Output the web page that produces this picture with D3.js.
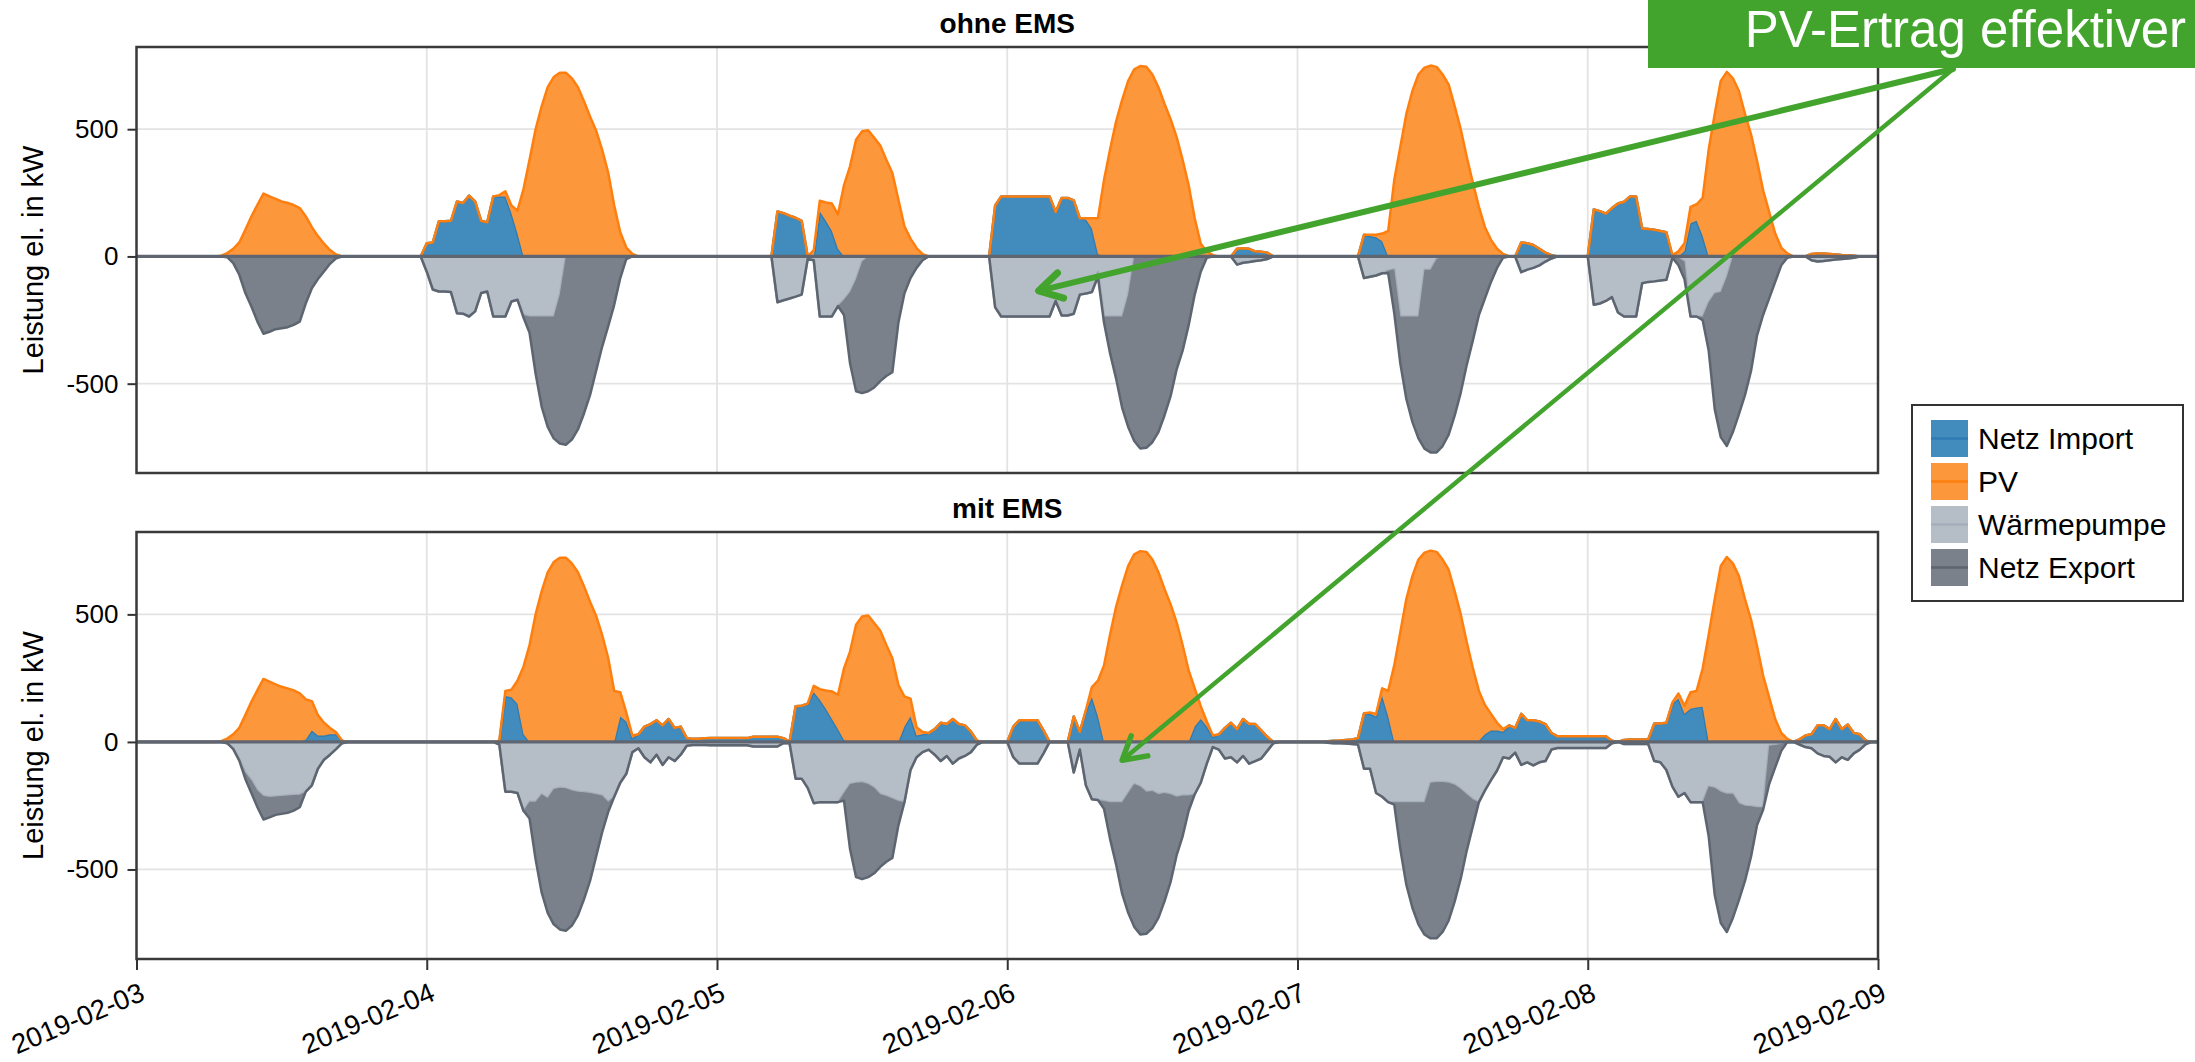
<!DOCTYPE html>
<html>
<head>
<meta charset="utf-8">
<script src="https://cdn.jsdelivr.net/npm/d3@7"></script>
<style>
  body { margin: 0; background: #fff; }
  svg { display: block; }
  text { font-family: "Liberation Sans", Arial, Helvetica, sans-serif; }
</style>
</head>
<body>
<div id="chart"></div>
<script>
// Half-hourly readings, given as runs: [start hour after 2019-02-03 00:00, values...]
// Hours not covered by a run are zero (night / no flow).
const pvRuns = [
  [7.0, [3, 13, 30, 55, 105, 157, 203, 247, 236, 226, 216, 210, 202, 190, 157, 115, 80, 50, 25, 8]],
  [30.0, [5, 20, 30, 90, 265, 380, 500, 590, 665, 705, 722, 722, 700, 665, 610, 550, 495, 420, 330, 200, 95, 35, 10]],
  [56.0, [25, 42, 72, 108, 135, 280, 354, 459, 492, 496, 466, 436, 380, 328, 223, 118, 70, 33, 9]],
  [78.5, [5, 40, 140, 300, 420, 530, 615, 690, 735, 748, 745, 715, 665, 600, 540, 470, 380, 280, 150, 50, 20, 5]],
  [102.0, [5, 10, 30, 100, 300, 430, 560, 650, 715, 742, 750, 745, 715, 675, 590, 500, 390, 290, 195, 115, 65, 30, 10]],
  [127.0, [5, 20, 32, 65, 65, 150, 420, 560, 690, 725, 700, 650, 560, 480, 375, 260, 175, 90, 35, 12]]
];

// ohne EMS
const importOhne = [
  [24.0, [52, 55, 138, 138, 140, 216, 210, 239, 216, 140, 134, 236, 236, 236, 170, 90]],
  [53.0, [177, 170, 160, 152, 140, 0, 0, 177, 140, 100, 30]],
  [71.0, [200, 236, 236, 236, 236, 236, 236, 236, 236, 236, 175, 230, 230, 220, 150, 145, 110, 10]],
  [91.0, [30, 32, 30, 20, 18, 15]],
  [101.5, [85, 80, 75, 60]],
  [114.5, [55, 52, 45, 30, 15, 5]],
  [120.5, [185, 178, 168, 190, 208, 215, 236, 236, 110, 108, 105, 100, 95]],
  [128.0, [20, 130, 140, 80]],
  [138.5, [10, 12, 12, 10, 8, 6, 5, 3]]
];
const wpOhne = [
  [24.0, [-60, -130, -138, -138, -140, -223, -225, -236, -216, -144, -138, -236, -236, -236, -177, -170,
          -230, -236, -236, -236, -236, -236, -150]],
  [53.0, [-180, -172, -165, -158, -150, -10, -15, -236, -236, -236, -195, -170, -140, -90, -20]],
  [71.0, [-200, -236, -236, -236, -236, -236, -236, -236, -236, -236, -175, -232, -232, -225, -150, -146,
          -140, -60, -236, -236, -236, -236, -150]],
  [91.0, [-32, -25, -22, -18, -15, -10]],
  [101.5, [-85, -80, -75, -66, -55, -50, -236, -236, -236, -236, -52, -52, -10]],
  [114.5, [-62, -52, -45, -35, -20, -8]],
  [120.5, [-190, -185, -175, -160, -220, -236, -236, -236, -105, -100, -98, -95, -92, -5, -5, -20,
           -236, -236, -236, -180, -145, -140, -80]],
  [138.5, [-15, -20, -18, -15, -12, -10, -8, -5]]
];
const exportOhne = [
  [7.5, [-3, -26, -72, -144, -197, -256, -304, -296, -286, -282, -278, -269, -256, -184, -125, -89, -59, -29, -7]],
  [32.0, [-10, -64, -224, -354, -434, -479, -585, -740, -720, -680, -617, -545, -450, -355, -275, -190, -85, -10]],
  [58.5, [-60, -280, -440, -517, -530, -515, -490, -470, -455, -260, -145, -85, -45, -15]],
  [79.5, [-20, -24, -144, -244, -359, -520, -725, -755, -752, -730, -690, -625, -550, -445, -370, -270, -150, -60, -5]],
  [103.5, [-11, -173, -184, -324, -414, -479, -703, -718, -760, -745, -700, -625, -535, -425, -330, -230,
           -165, -100, -45, -5]],
  [127.5, [-30, -70, 0, 0, -14, -190, -455, -570, -665, -690, -620, -545, -450, -310, -230, -165, -100, -35, -5]]
];

// mit EMS
const importMit = [
  [14.0, [10, 45, 25, 25, 30, 30, 5]],
  [30.5, [180, 175, 150, 30]],
  [40.0, [100, 80, 15, 30, 60, 70, 85, 65, 90, 55, 60, 15,
          12, 12, 14, 15, 15, 15, 15, 15, 15, 15,
          20, 20, 20, 20, 20, 15, 0,
          140, 142, 150, 195, 165, 130, 90, 50, 8]],
  [63.5, [60, 100, 25, 30, 35, 50, 75, 70, 90, 70, 65, 40, 5]],
  [72.5, [60, 85, 85, 85, 85, 45]],
  [77.5, [100, 40, 120, 175, 100]],
  [87.5, [60, 90, 60, 20, 30, 55, 75, 50, 90, 70, 70, 45, 20]],
  [98.5, [3, 5, 6, 8, 10, 15, 112, 110, 100, 180, 100]],
  [111.0, [5, 30, 45, 45, 40, 65, 55, 110, 85, 85, 80, 70, 35,
           22, 22, 22, 22, 22, 22, 22, 22, 22, 5, 0,
           8, 10, 10, 10, 10, 72, 72, 75, 150, 170, 110, 130, 135, 138]],
  [137.5, [10, 25, 30, 65, 65, 50, 90, 50, 68, 35, 30, 5]]
];
const wpMit = [
  [7.5, [-5, -25, -68, -120, -150, -190, -212, -216, -214, -212, -210, -208, -207, -195, -170, -105, -70, -50, -28, -5]],
  [30.0, [-10, -195, -195, -200, -270, -235, -235, -205, -220, -185,
          -180, -182, -190, -195, -197, -200, -205, -210, -235, -215,
          -160, -125, -40, -25, -60, -80, -50, -90, -60, -75,
          -50, -15, -12, -12, -12, -13, -13, -13, -13, -13,
          -13, -13, -18, -18, -18, -18, -18, -5, -5, -144,
          -144, -180, -240, -236, -236, -236, -236, -200, -165, -160,
          -158, -165, -180, -205, -212, -222, -232, -236, -110, -60,
          -40, -30, -50, -75, -55, -85, -65, -55, -40, -10]],
  [72.5, [-60, -85, -85, -85, -85, -45]],
  [77.5, [-120, -30, -170, -225, -228, -232, -236, -236, -236, -200, -165, -175, -195, -192, -205, -200, -205,
          -215, -210, -210, -205, -160, -85, -20, -30, -65, -60, -80, -55, -85, -75, -65, -35, -5]],
  [98.5, [-3, -5, -5, -6, -8, -10, -105, -105, -200,
          -215, -236, -236, -236, -236, -236, -236, -236, -160, -157,
          -157, -160, -168, -185, -205, -225, -236, -190, -150, -112,
          -60, -65, -42, -90, -80, -92, -80, -75, -30, -24,
          -24, -24, -24, -24, -24, -24, -24, -24, -5, 0,
          -8, -8, -8, -8, -8, -75, -80, -110, -175, -215,
          -200, -236, -236, -236, -175, -180, -195, -203, -203, -240,
          -250, -252, -256, -256, -15, -12, -8]],
  [137.5, [-10, -20, -25, -45, -55, -58, -80, -60, -70, -45, -30, -8]]
];
const exportMit = [
  [8.0, [-3, -5, -25, -50, -66, -92, -80, -72, -70, -68, -61, -49]],
  [32.5, [-65, -225, -385, -450, -530, -555, -558, -530, -485, -420, -345, -245, -145, -40]],
  [58.5, [-30, -255, -370, -380, -365, -335, -285, -258, -233, -95]],
  [80.0, [-30, -144, -244, -359, -470, -560, -580, -557, -538, -485, -425, -345, -230, -160, -60]],
  [104.0, [-10, -184, -324, -414, -479, -519, -610, -613, -588, -540, -457, -350, -220, -105]],
  [130.0, [-195, -420, -515, -542, -487, -380, -295, -198, -70, -10, -150, -88, -27]]
];

const seriesNames = ["Netz Import", "PV", "Wärmepumpe", "Netz Export"];
const panelTitles = ["ohne EMS", "mit EMS"];
const dayLabels = ["2019-02-03", "2019-02-04", "2019-02-05", "2019-02-06", "2019-02-07", "2019-02-08", "2019-02-09"];
const yTickValues = [-500, 0, 500];
const annotationText = "PV-Ertrag effektiver";
// arrow targets: [hour, kW] in panel 0 and panel 1
const arrowTargets = [[74.6, -135], [81.5, -72]];

const fills = ["#418cbd", "#fd973c", "#b5bdc7", "#7a818b"];
const lines = ["#2f7bb3", "#ff7f0e", "#a5aeba", "#5d6571"];

// expand runs onto the half-hour grid
const nPoints = 289;
function expand(runs) {
  const a = new Array(nPoints).fill(0);
  runs.forEach(([start, vals]) => vals.forEach((v, i) => { a[Math.round(start * 2) + i] = v; }));
  return a;
}
const t0 = Date.UTC(2019, 1, 3);
const times = d3.range(nPoints).map(i => new Date(t0 + i * 1800e3));
const pv = expand(pvRuns);

function stackRows(imp, wp, ex) {
  return times.map((t, i) => ({
    t,
    layers: [
      [0, imp[i]],
      [imp[i], imp[i] + pv[i]],
      [0, wp[i]],
      [wp[i], wp[i] + ex[i]]
    ]
  }));
}
const panelData = [
  stackRows(expand(importOhne), expand(wpOhne), expand(exportOhne)),
  stackRows(expand(importMit), expand(wpMit), expand(exportMit))
];

const width = 2195, height = 1062;
const plotLeft = 136.5, plotRight = 1878;
const panels = [{ top: 47, bottom: 473 }, { top: 532, bottom: 959 }];

const svg = d3.select("#chart").append("svg")
  .attr("width", width)
  .attr("height", height);

const x = d3.scaleUtc()
  .domain([new Date(dayLabels[0] + "T00:00:00Z"), new Date(dayLabels[dayLabels.length - 1] + "T00:00:00Z")])
  .range([plotLeft, plotRight]);
const dayDates = dayLabels.map(s => new Date(s + "T00:00:00Z"));

panels.forEach((p, pi) => {
  const y = d3.scaleLinear().domain([-851, 823]).range([p.bottom, p.top]);
  p.y = y;
  const g = svg.append("g");

  g.append("clipPath").attr("id", "clip" + pi)
    .append("rect")
    .attr("x", plotLeft).attr("y", p.top)
    .attr("width", plotRight - plotLeft).attr("height", p.bottom - p.top);

  // grid lines
  g.append("g").selectAll("line").data(dayDates.slice(1, -1)).join("line")
    .attr("x1", d => x(d)).attr("x2", d => x(d))
    .attr("y1", p.top).attr("y2", p.bottom)
    .attr("stroke", "#e3e3e3").attr("stroke-width", 1.8);
  g.append("g").selectAll("line").data(yTickValues).join("line")
    .attr("x1", plotLeft).attr("x2", plotRight)
    .attr("y1", d => y(d)).attr("y2", d => y(d))
    .attr("stroke", "#e3e3e3").attr("stroke-width", 1.8);

  // stacked areas
  const plot = g.append("g").attr("clip-path", `url(#clip${pi})`);
  const rows = panelData[pi];
  seriesNames.forEach((name, k) => {
    const area = d3.area()
      .x(d => x(d.t))
      .y0(d => y(d.layers[k][0]))
      .y1(d => y(d.layers[k][1]));
    const edge = d3.line()
      .x(d => x(d.t))
      .y(d => y(d.layers[k][1]));
    plot.append("path")
      .datum(rows)
      .attr("fill", fills[k])
      .attr("d", area);
    plot.append("path")
      .datum(rows)
      .attr("fill", "none")
      .attr("stroke", lines[k])
      .attr("stroke-width", 2.5)
      .attr("stroke-linejoin", "round")
      .attr("d", edge);
  });

  // zero line
  plot.append("line")
    .attr("x1", plotLeft).attr("x2", plotRight)
    .attr("y1", y(0)).attr("y2", y(0))
    .attr("stroke", "#5f6672").attr("stroke-width", 3.2);

  // y axis
  const yAxis = g.append("g")
    .attr("transform", `translate(${plotLeft},0)`)
    .call(d3.axisLeft(y).tickValues(yTickValues).tickFormat(d => String(d)).tickSize(9).tickPadding(9));
  yAxis.select(".domain").remove();
  yAxis.selectAll(".tick line").attr("stroke", "#333").attr("stroke-width", 2);
  yAxis.selectAll(".tick text")
    .attr("font-size", 26)
    .attr("fill", "#000")
    .style("font-family", "'Liberation Sans', Arial, sans-serif");

  // x axis (bottom panel only)
  if (pi === panels.length - 1) {
    const xAxis = g.append("g")
      .attr("transform", `translate(0,${p.bottom})`)
      .call(d3.axisBottom(x).tickValues(dayDates).tickFormat(d3.utcFormat("%Y-%m-%d")).tickSize(11));
    xAxis.select(".domain").remove();
    xAxis.selectAll(".tick line").attr("stroke", "#333").attr("stroke-width", 2);
    xAxis.selectAll(".tick text")
      .attr("font-size", 27.5)
      .attr("fill", "#000")
      .style("font-family", "'Liberation Sans', Arial, sans-serif")
      .attr("text-anchor", "end")
      .attr("x", 6)
      .attr("y", 0)
      .attr("dy", "0.35em")
      .attr("transform", "translate(0,34) rotate(-23)");
  }

  // frame
  g.append("rect")
    .attr("x", plotLeft).attr("y", p.top)
    .attr("width", plotRight - plotLeft).attr("height", p.bottom - p.top)
    .attr("fill", "none").attr("stroke", "#3a3a3a").attr("stroke-width", 2.5);

  // title
  g.append("text")
    .attr("x", (plotLeft + plotRight) / 2)
    .attr("y", p.top - 14)
    .attr("text-anchor", "middle")
    .attr("font-size", 28)
    .attr("font-weight", "bold")
    .text(panelTitles[pi]);

  // y label
  g.append("text")
    .attr("transform", `translate(33,${(p.top + p.bottom) / 2}) rotate(-90)`)
    .attr("text-anchor", "middle")
    .attr("dy", "0.35em")
    .attr("font-size", 29)
    .text("Leistung el. in kW");
});

// legend
const legend = svg.append("g").attr("transform", "translate(1912,405)");
legend.append("rect")
  .attr("width", 271).attr("height", 196)
  .attr("fill", "#fff").attr("stroke", "#333").attr("stroke-width", 2);
seriesNames.forEach((name, k) => {
  const row = legend.append("g").attr("transform", `translate(19,${15 + k * 43})`);
  row.append("rect").attr("width", 37).attr("height", 37).attr("fill", fills[k]);
  row.append("line").attr("x1", 0).attr("x2", 37).attr("y1", 18.5).attr("y2", 18.5)
    .attr("stroke", lines[k]).attr("stroke-width", 2.5);
  row.append("text").attr("x", 47).attr("y", 18.5).attr("dy", "0.35em")
    .attr("font-size", 30).text(name);
});

// annotation
const anno = svg.append("g");
const start = [1953, 69];
const arrowWidths = [6, 4.5];
arrowTargets.forEach(([h, v], i) => {
  const tx = x(new Date(t0 + h * 3600e3));
  const ty = panels[i].y(v);
  const ang = Math.atan2(ty - start[1], tx - start[0]);
  const len = 26, spread = Math.PI / 6;
  const a1 = [tx - len * Math.cos(ang - spread), ty - len * Math.sin(ang - spread)];
  const a2 = [tx - len * Math.cos(ang + spread), ty - len * Math.sin(ang + spread)];
  anno.append("line")
    .attr("x1", start[0]).attr("y1", start[1]).attr("x2", tx).attr("y2", ty)
    .attr("stroke", "#43a42d").attr("stroke-width", arrowWidths[i]).attr("stroke-linecap", "round");
  anno.append("path")
    .attr("d", `M${a1[0]},${a1[1]}L${tx},${ty}L${a2[0]},${a2[1]}`)
    .attr("fill", "none").attr("stroke", "#43a42d").attr("stroke-width", arrowWidths[i] + 1)
    .attr("stroke-linecap", "round").attr("stroke-linejoin", "round");
});
anno.append("rect")
  .attr("x", 1648).attr("y", 0).attr("width", width - 1648).attr("height", 68)
  .attr("fill", "#43a42d");
anno.append("text")
  .attr("x", 2186).attr("y", 47)
  .attr("text-anchor", "end")
  .attr("font-size", 51)
  .attr("fill", "#fff")
  .text(annotationText);
</script>
</body>
</html>
